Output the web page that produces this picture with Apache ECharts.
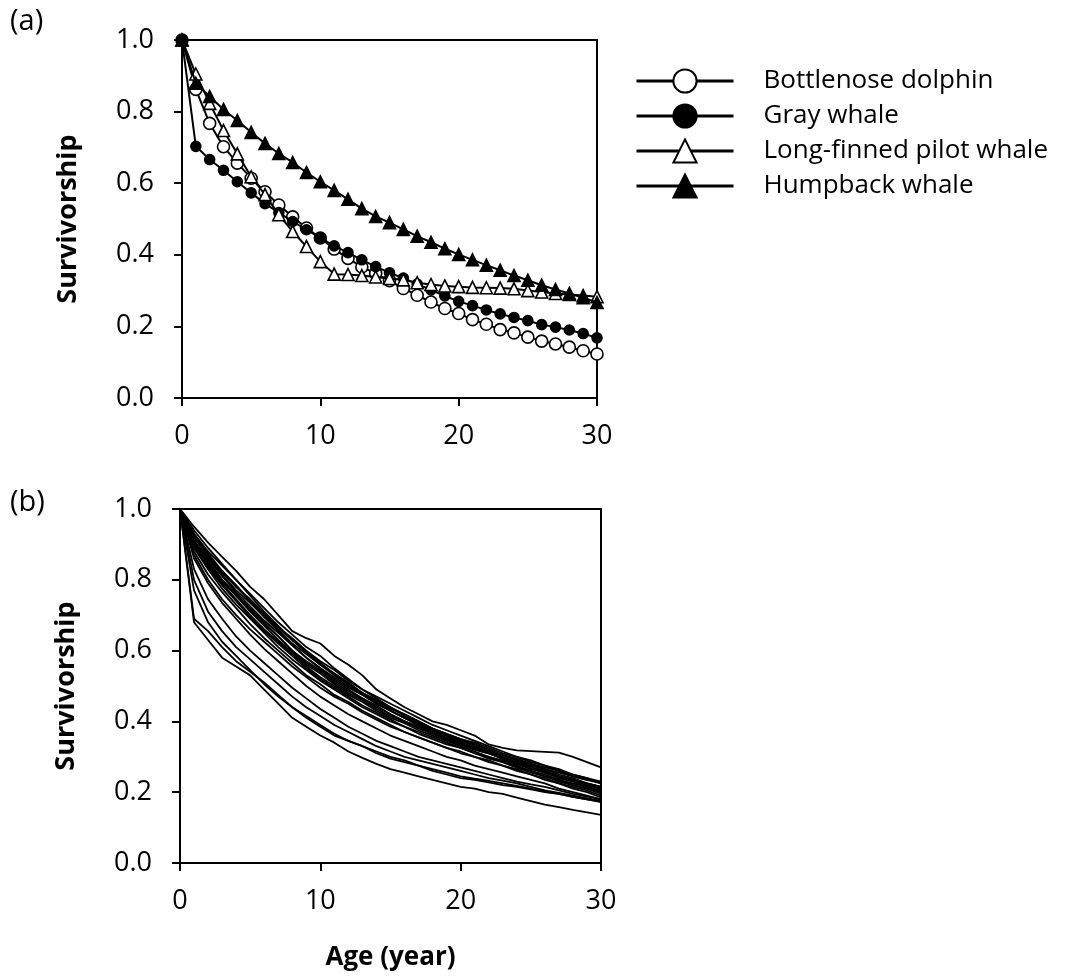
<!DOCTYPE html>
<html>
<head>
<meta charset="utf-8">
<style>html,body{margin:0;padding:0;background:#fff;}#c{width:1075px;height:980px;}</style>
<script src="https://cdn.jsdelivr.net/npm/echarts@6/dist/echarts.min.js"></script>
</head>
<body>
<div id="c"></div>
<script>
const ages = [0,1,2,3,4,5,6,7,8,9,10,11,12,13,14,15,16,17,18,19,20,21,22,23,24,25,26,27,28,29,30];
const xTicks = [0, 10, 20, 30];
const yTicks = [0.0, 0.2, 0.4, 0.6, 0.8, 1.0];

const speciesNames = ['Bottlenose dolphin', 'Gray whale', 'Long-finned pilot whale', 'Humpback whale'];
const bottlenose = [1.0,0.862,0.767,0.702,0.656,0.614,0.576,0.539,0.506,0.475,0.447,0.416,0.390,0.366,0.348,0.328,0.306,0.287,0.268,0.250,0.236,0.219,0.206,0.191,0.182,0.170,0.159,0.151,0.142,0.132,0.123];
const gray       = [1.0,0.703,0.666,0.636,0.604,0.573,0.543,0.518,0.493,0.470,0.447,0.425,0.406,0.386,0.367,0.350,0.335,0.318,0.302,0.285,0.270,0.258,0.246,0.235,0.225,0.216,0.205,0.198,0.190,0.180,0.168];
const pilot      = [1.0,0.905,0.823,0.747,0.682,0.618,0.568,0.512,0.465,0.423,0.381,0.346,0.345,0.342,0.338,0.334,0.330,0.322,0.317,0.313,0.311,0.309,0.308,0.307,0.305,0.300,0.296,0.292,0.289,0.286,0.283];
const humpback   = [1.0,0.879,0.842,0.806,0.775,0.742,0.711,0.683,0.658,0.630,0.604,0.580,0.555,0.529,0.507,0.490,0.471,0.452,0.435,0.417,0.401,0.386,0.371,0.357,0.342,0.329,0.315,0.303,0.292,0.280,0.267];

// panel (b): individual survivorship curves
const curveT  = [1.0,0.95,0.905,0.865,0.825,0.78,0.745,0.70,0.655,0.635,0.62,0.585,0.56,0.53,0.49,0.465,0.44,0.42,0.40,0.39,0.375,0.36,0.335,0.325,0.318,0.316,0.314,0.312,0.30,0.285,0.27];
const curveC1 = [1.0,0.93,0.88,0.84,0.80,0.76,0.72,0.68,0.645,0.61,0.585,0.55,0.52,0.49,0.465,0.44,0.42,0.40,0.38,0.365,0.35,0.335,0.32,0.305,0.29,0.28,0.265,0.255,0.245,0.235,0.225];
const curveC2 = [1.0,0.92,0.87,0.82,0.78,0.74,0.70,0.665,0.63,0.595,0.56,0.535,0.505,0.48,0.455,0.43,0.41,0.39,0.375,0.355,0.34,0.325,0.315,0.30,0.285,0.27,0.26,0.245,0.235,0.225,0.215];
const curveC3 = [1.0,0.91,0.855,0.80,0.755,0.72,0.68,0.64,0.60,0.57,0.545,0.515,0.49,0.465,0.445,0.42,0.40,0.385,0.37,0.35,0.335,0.325,0.31,0.295,0.28,0.27,0.255,0.245,0.235,0.22,0.21];
const curveC4 = [1.0,0.90,0.84,0.79,0.745,0.70,0.66,0.625,0.59,0.555,0.525,0.50,0.475,0.455,0.43,0.41,0.395,0.375,0.36,0.345,0.33,0.315,0.30,0.29,0.275,0.26,0.25,0.235,0.225,0.215,0.205];
const curveC5 = [1.0,0.89,0.83,0.775,0.73,0.69,0.65,0.61,0.575,0.545,0.515,0.49,0.465,0.44,0.42,0.40,0.385,0.365,0.35,0.335,0.325,0.31,0.30,0.285,0.27,0.26,0.245,0.235,0.22,0.21,0.20];
const curveC6 = [1.0,0.88,0.815,0.765,0.72,0.675,0.635,0.60,0.565,0.53,0.505,0.475,0.455,0.43,0.41,0.39,0.37,0.355,0.34,0.325,0.315,0.30,0.29,0.275,0.265,0.25,0.24,0.225,0.215,0.205,0.19];
const curveC7 = [1.0,0.93,0.875,0.825,0.785,0.74,0.695,0.655,0.615,0.58,0.55,0.52,0.495,0.475,0.45,0.43,0.41,0.395,0.375,0.36,0.345,0.335,0.32,0.305,0.295,0.28,0.27,0.26,0.245,0.235,0.23];
const curveC8 = [1.0,0.91,0.86,0.81,0.765,0.725,0.685,0.65,0.615,0.58,0.55,0.525,0.50,0.475,0.45,0.43,0.41,0.39,0.37,0.355,0.34,0.325,0.31,0.295,0.285,0.27,0.255,0.245,0.235,0.22,0.21];
const curveC9 = [1.0,0.94,0.89,0.845,0.80,0.755,0.71,0.67,0.63,0.595,0.565,0.535,0.51,0.48,0.46,0.44,0.415,0.395,0.38,0.36,0.345,0.33,0.315,0.305,0.29,0.275,0.265,0.25,0.24,0.225,0.215];
const curveC10 = [1.0,0.905,0.845,0.795,0.755,0.71,0.67,0.63,0.595,0.56,0.535,0.505,0.48,0.46,0.435,0.415,0.40,0.38,0.365,0.35,0.335,0.32,0.31,0.295,0.28,0.265,0.255,0.24,0.23,0.215,0.20];
const curveC11 = [1.0,0.87,0.80,0.745,0.70,0.66,0.625,0.59,0.555,0.525,0.495,0.47,0.45,0.425,0.405,0.385,0.37,0.355,0.34,0.325,0.31,0.30,0.285,0.275,0.26,0.25,0.235,0.225,0.21,0.20,0.185];
const curveC12 = [1.0,0.92,0.865,0.815,0.77,0.735,0.695,0.66,0.62,0.59,0.56,0.53,0.505,0.48,0.46,0.435,0.42,0.40,0.38,0.365,0.35,0.34,0.325,0.31,0.30,0.285,0.275,0.26,0.25,0.24,0.225];
const curveC13 = [1.0,0.895,0.835,0.785,0.74,0.695,0.655,0.62,0.585,0.55,0.52,0.495,0.47,0.445,0.425,0.405,0.385,0.37,0.355,0.34,0.325,0.31,0.295,0.285,0.27,0.255,0.245,0.23,0.22,0.21,0.195];
const curveC14 = [1.0,0.86,0.79,0.735,0.69,0.645,0.605,0.57,0.535,0.50,0.47,0.445,0.42,0.40,0.38,0.36,0.345,0.33,0.315,0.30,0.29,0.275,0.265,0.255,0.245,0.235,0.225,0.21,0.20,0.19,0.18];
const curveC15 = [1.0,0.925,0.87,0.825,0.78,0.745,0.705,0.665,0.635,0.60,0.57,0.545,0.515,0.49,0.47,0.45,0.43,0.41,0.39,0.375,0.36,0.345,0.33,0.315,0.30,0.29,0.275,0.265,0.25,0.24,0.23];
const curveC16 = [1.0,0.90,0.85,0.80,0.76,0.715,0.675,0.64,0.60,0.565,0.54,0.51,0.485,0.465,0.44,0.42,0.40,0.385,0.365,0.35,0.335,0.32,0.31,0.295,0.28,0.27,0.26,0.245,0.235,0.225,0.215];
const curveL1 = [1.0,0.68,0.63,0.58,0.555,0.53,0.49,0.45,0.41,0.385,0.36,0.34,0.315,0.297,0.28,0.265,0.255,0.245,0.235,0.225,0.215,0.21,0.20,0.195,0.185,0.175,0.165,0.158,0.15,0.143,0.136];
const curveL2 = [1.0,0.69,0.655,0.61,0.57,0.54,0.51,0.475,0.44,0.41,0.385,0.36,0.345,0.33,0.315,0.30,0.29,0.275,0.26,0.25,0.24,0.235,0.228,0.22,0.215,0.208,0.20,0.195,0.187,0.18,0.175];
const curveL3 = [1.0,0.80,0.71,0.655,0.61,0.575,0.54,0.505,0.47,0.44,0.415,0.39,0.37,0.35,0.33,0.315,0.30,0.29,0.28,0.27,0.26,0.25,0.24,0.233,0.225,0.215,0.205,0.198,0.19,0.183,0.175];
const curveL4 = [1.0,0.83,0.745,0.69,0.64,0.60,0.565,0.53,0.495,0.465,0.435,0.41,0.385,0.365,0.345,0.33,0.315,0.30,0.29,0.28,0.27,0.26,0.25,0.24,0.23,0.222,0.215,0.205,0.195,0.188,0.18];
const curveL5 = [1.0,0.77,0.68,0.625,0.585,0.545,0.505,0.47,0.44,0.415,0.39,0.365,0.345,0.33,0.31,0.295,0.285,0.275,0.265,0.255,0.245,0.238,0.232,0.225,0.218,0.21,0.202,0.195,0.187,0.18,0.172];

const panelBCurves = [curveT,curveC1,curveC2,curveC3,curveC4,curveC5,curveC6,curveC7,curveC8,curveC9,curveC10,curveC11,curveC12,curveC13,curveC14,curveC15,curveC16,curveL1,curveL2,curveL3,curveL4,curveL5];

const FONT = 'Open Sans';
const pair = arr => ages.map((a, i) => [a, arr[i]]);

function xAxisCfg(gi, withName) {
  const c = {
    type: 'value', gridIndex: gi, min: 0, max: 30, interval: 10,
    axisLine: { show: true, onZero: false, lineStyle: { color: '#000', width: 2 } },
    axisTick: { show: true, inside: false, length: 8, lineStyle: { color: '#000', width: 2 } },
    axisLabel: { color: '#000', fontFamily: FONT, fontSize: 27, margin: 25 },
    splitLine: { show: false }
  };
  if (withName) {
    c.name = 'Age (year)';
    c.nameLocation = 'middle';
    c.nameGap = 82;
    c.nameTextStyle = { color: '#000', fontFamily: FONT, fontSize: 26, fontWeight: 'bold' };
  }
  return c;
}
function yAxisCfg(gi) {
  return {
    type: 'value', gridIndex: gi, min: 0, max: 1, interval: 0.2,
    name: 'Survivorship', nameLocation: 'middle', nameGap: 100,
    nameTextStyle: { color: '#000', fontFamily: FONT, fontSize: 27, fontWeight: 'bold' },
    axisLine: { show: true, onZero: false, lineStyle: { color: '#000', width: 2 } },
    axisTick: { show: true, inside: false, length: 8, lineStyle: { color: '#000', width: 2 } },
    axisLabel: { color: '#000', fontFamily: FONT, fontSize: 27, margin: 28,
      formatter: v => v.toFixed(1) },
    splitLine: { show: false }
  };
}

const markerSpecs = [
  { data: bottlenose, symbol: 'circle', size: 12, fill: '#fff' },
  { data: gray, symbol: 'circle', size: 10, fill: '#000' },
  { data: pilot, symbol: 'triangle', size: 12, fill: '#fff' },
  { data: humpback, symbol: 'triangle', size: 12, fill: '#000' }
];

const series = [];
markerSpecs.forEach((m, i) => {
  series.push({
    name: speciesNames[i], type: 'line', xAxisIndex: 0, yAxisIndex: 0,
    data: pair(m.data), symbol: m.symbol, symbolSize: m.size, showSymbol: true,
    lineStyle: { color: '#000', width: 2 },
    itemStyle: { color: m.fill, borderColor: '#000', borderWidth: 1.6 },
    z: 3 + i
  });
});
panelBCurves.forEach((arr, i) => {
  series.push({
    name: 'curve' + (i + 1), type: 'line', xAxisIndex: 1, yAxisIndex: 1,
    data: pair(arr), symbol: 'none', lineStyle: { color: '#000', width: 1.8 },
    itemStyle: { color: '#000' }
  });
});

const chart = echarts.init(document.getElementById('c'), null, { renderer: 'canvas' });
chart.setOption({
  backgroundColor: '#fff',
  animation: false,
  grid: [
    { left: 182, top: 40, width: 415, height: 358, show: true, borderColor: '#000', borderWidth: 2, containLabel: false },
    { left: 180, top: 509, width: 421, height: 354, show: true, borderColor: '#000', borderWidth: 2, containLabel: false }
  ],
  xAxis: [xAxisCfg(0, false), xAxisCfg(1, true)],
  yAxis: [yAxisCfg(0), yAxisCfg(1)],
  legend: {
    data: speciesNames, orient: 'vertical', left: 630, top: 63,
    itemWidth: 97, itemHeight: 29, itemGap: 9,
    lineStyle: { width: 3 },
    textStyle: { color: '#000', fontFamily: FONT, fontSize: 26, padding: [0, 0, 0, 25] },
    selectedMode: false
  },
  graphic: [
    { type: 'text', left: 10, top: 7, style: { text: '(a)', fontFamily: FONT, fontSize: 29, fill: '#000' } },
    { type: 'text', left: 10, top: 488, style: { text: '(b)', fontFamily: FONT, fontSize: 29, fill: '#000' } }
  ],
  series: series
});
</script>
</body>
</html>
